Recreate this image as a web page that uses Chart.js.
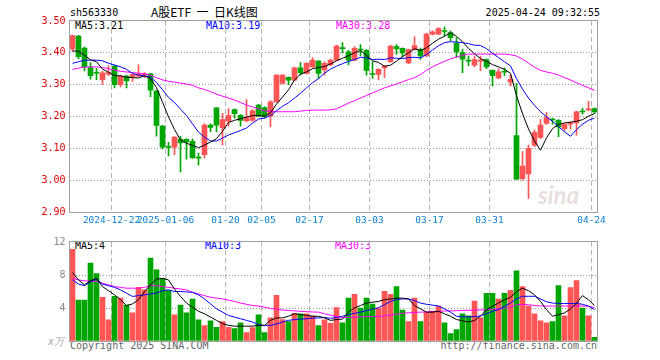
<!DOCTYPE html>
<html>
<head>
<meta charset="utf-8">
<script src="https://cdn.jsdelivr.net/npm/chart.js@4.4.1/dist/chart.umd.min.js"></script>
<style>
  body { margin: 0; background: #fff; width: 660px; height: 360px; position: relative; overflow: hidden; font-family: "DejaVu Sans Mono", monospace; }
  canvas { position: absolute; left: 0; }
  #price { top: 0; }
  #vol { top: 232px; }
  .t { position: absolute; font-size: 10px; line-height: 12px; white-space: pre; }
</style>
</head>
<body>
<div class="t" style="left:70px;top:7px">sh563330</div>
<div class="t" style="left:151px;top:4px;font-family:'Noto Sans CJK SC';font-size:12px;line-height:16px">A股ETF  一  日K线图</div>
<div class="t" style="right:60px;top:7px">2025-04-24 09:32:55</div>

<div class="t" style="left:75px;top:20px;color:#000">MA5:3.21</div>
<div class="t" style="left:206px;top:20px;color:#0000ff">MA10:3.19</div>
<div class="t" style="left:336px;top:20px;color:#ff00ff">MA30:3.28</div>

<div class="t" style="left:75px;top:240px;color:#000">MA5:4</div>
<div class="t" style="left:205px;top:240px;color:#0000ff">MA10:3</div>
<div class="t" style="left:335px;top:240px;color:#ff00ff">MA30:3</div>

<div class="t" style="left:48px;top:336px;color:#aaa;font-style:italic">x万</div>
<div class="t" style="left:70px;top:340px;color:#666">Copyright 2025 SINA.COM</div>
<div class="t" style="right:63px;top:340px;color:#666">http://finance.sina.com.cn</div>
<div class="t" style="left:538px;top:180px;font:italic bold 24px Lato;color:rgba(200,180,180,0.45)">sina</div>

<canvas id="price" width="660" height="232"></canvas>
<canvas id="vol" width="660" height="128"></canvas>

<script>
// dias de negociacion
const dates = [
  '2024-12-12','2024-12-13','2024-12-16','2024-12-17','2024-12-18','2024-12-19','2024-12-20','2024-12-23','2024-12-24','2024-12-25',
  '2024-12-26','2024-12-27','2024-12-30','2024-12-31','2025-01-02','2025-01-03','2025-01-06','2025-01-07','2025-01-08','2025-01-09',
  '2025-01-10','2025-01-13','2025-01-14','2025-01-15','2025-01-16','2025-01-17','2025-01-20','2025-01-21','2025-01-22','2025-01-23',
  '2025-01-24','2025-01-27','2025-02-05','2025-02-06','2025-02-07','2025-02-10','2025-02-11','2025-02-12','2025-02-13','2025-02-14',
  '2025-02-17','2025-02-18','2025-02-19','2025-02-20','2025-02-21','2025-02-24','2025-02-25','2025-02-26','2025-02-27','2025-02-28',
  '2025-03-03','2025-03-04','2025-03-05','2025-03-06','2025-03-07','2025-03-10','2025-03-11','2025-03-12','2025-03-13','2025-03-14',
  '2025-03-17','2025-03-18','2025-03-19','2025-03-20','2025-03-21','2025-03-24','2025-03-25','2025-03-26','2025-03-27','2025-03-28',
  '2025-03-31','2025-04-01','2025-04-02','2025-04-03','2025-04-07','2025-04-08','2025-04-09','2025-04-10','2025-04-11','2025-04-14',
  '2025-04-15','2025-04-16','2025-04-17','2025-04-18','2025-04-21','2025-04-22','2025-04-23','2025-04-24'
];

const tickDates = ['2024-12-23','2025-01-06','2025-01-20','2025-02-05','2025-02-17','2025-03-03','2025-03-17','2025-03-31','2025-04-24'];
const tickText  = ['2024-12-22','2025-01-06','01-20','02-05','02-17','03-03','03-17','03-31','04-24'];

const open = [
  3.412,3.453,3.415,3.354,3.338,3.316,3.333,3.358,3.300,3.327,
  3.325,3.327,3.331,3.334,3.280,3.170,3.106,3.104,3.128,3.128,
  3.122,3.072,3.080,3.173,3.227,3.165,3.185,3.222,3.204,3.186,
  3.188,3.236,3.228,3.201,3.246,3.304,3.323,3.314,3.353,3.335,
  3.356,3.374,3.346,3.363,3.377,3.414,3.403,3.377,3.411,3.408,
  3.334,3.332,3.353,3.372,3.420,3.414,3.368,3.410,3.410,3.390,
  3.459,3.459,3.469,3.464,3.431,3.401,3.376,3.361,3.374,3.379,
  3.345,3.321,3.341,3.308,3.140,3.005,3.020,3.110,3.134,3.178,
  3.192,3.188,3.162,3.176,3.180,3.216,3.221,3.225
];
const high = [
  3.456,3.455,3.418,3.369,3.351,3.343,3.360,3.360,3.330,3.330,
  3.334,3.362,3.338,3.336,3.282,3.172,3.119,3.137,3.138,3.130,
  3.130,3.085,3.177,3.177,3.228,3.210,3.225,3.224,3.206,3.253,
  3.222,3.238,3.230,3.250,3.332,3.332,3.325,3.355,3.369,3.369,
  3.385,3.376,3.372,3.380,3.424,3.432,3.408,3.420,3.426,3.410,
  3.372,3.350,3.360,3.424,3.426,3.416,3.412,3.450,3.415,3.462,
  3.469,3.479,3.482,3.469,3.448,3.412,3.390,3.390,3.390,3.381,
  3.347,3.350,3.353,3.330,3.304,3.090,3.110,3.157,3.190,3.212,
  3.195,3.190,3.178,3.183,3.217,3.226,3.248,3.227
];
const low = [
  3.405,3.381,3.343,3.317,3.316,3.301,3.328,3.290,3.293,3.290,
  3.310,3.325,3.322,3.262,3.138,3.098,3.076,3.080,3.026,3.066,
  3.068,3.047,3.070,3.152,3.152,3.110,3.170,3.195,3.170,3.184,
  3.185,3.200,3.195,3.167,3.245,3.302,3.300,3.313,3.330,3.333,
  3.354,3.320,3.330,3.360,3.375,3.400,3.362,3.375,3.390,3.330,
  3.320,3.315,3.322,3.370,3.395,3.387,3.366,3.408,3.380,3.388,
  3.456,3.457,3.453,3.438,3.385,3.338,3.360,3.356,3.344,3.350,
  3.296,3.318,3.328,3.296,3.002,3.000,2.942,3.105,3.130,3.175,
  3.176,3.137,3.155,3.160,3.141,3.207,3.218,3.210
];
const close = [
  3.454,3.388,3.356,3.328,3.336,3.337,3.338,3.300,3.327,3.312,
  3.332,3.334,3.334,3.283,3.172,3.104,3.103,3.135,3.117,3.120,
  3.071,3.069,3.173,3.166,3.173,3.190,3.204,3.209,3.188,3.197,
  3.218,3.201,3.200,3.246,3.330,3.330,3.314,3.353,3.338,3.367,
  3.377,3.335,3.367,3.377,3.421,3.413,3.377,3.414,3.409,3.345,
  3.332,3.348,3.358,3.421,3.412,3.400,3.410,3.423,3.390,3.459,
  3.466,3.476,3.467,3.448,3.403,3.380,3.374,3.379,3.376,3.356,
  3.328,3.340,3.339,3.317,3.003,3.044,3.100,3.150,3.173,3.197,
  3.189,3.167,3.176,3.179,3.215,3.214,3.223,3.214
];

const ma5 = [
  3.406,3.405,3.392,3.378,3.372,3.349,3.339,3.328,3.328,3.323,
  3.322,3.321,3.328,3.319,3.291,3.245,3.199,3.159,3.126,3.116,
  3.109,3.102,3.110,3.120,3.130,3.154,3.181,3.188,3.193,3.198,
  3.203,3.203,3.201,3.212,3.239,3.261,3.284,3.315,3.333,3.340,
  3.350,3.354,3.357,3.365,3.375,3.383,3.391,3.400,3.407,3.392,
  3.375,3.370,3.358,3.361,3.374,3.388,3.400,3.413,3.407,3.416,
  3.430,3.443,3.452,3.463,3.452,3.435,3.414,3.397,3.382,3.373,
  3.363,3.356,3.348,3.336,3.265,3.209,3.161,3.123,3.094,3.133,
  3.162,3.175,3.180,3.182,3.185,3.190,3.201,3.209
];
const ma10 = [
  3.367,3.372,3.377,3.377,3.377,3.375,3.367,3.362,3.356,3.348,
  3.335,3.330,3.328,3.323,3.307,3.284,3.260,3.244,3.223,3.203,
  3.177,3.151,3.135,3.123,3.123,3.132,3.142,3.149,3.156,3.164,
  3.179,3.192,3.195,3.203,3.218,3.232,3.243,3.258,3.273,3.290,
  3.306,3.319,3.336,3.349,3.358,3.366,3.373,3.379,3.386,3.384,
  3.379,3.380,3.379,3.384,3.383,3.382,3.385,3.386,3.384,3.395,
  3.409,3.422,3.432,3.435,3.434,3.432,3.429,3.424,3.423,3.413,
  3.399,3.385,3.372,3.359,3.319,3.286,3.258,3.235,3.215,3.199,
  3.185,3.168,3.152,3.138,3.159,3.176,3.188,3.195
];
const ma30 = [
  3.348,3.352,3.355,3.356,3.356,3.354,3.350,3.346,3.342,3.340,
  3.338,3.336,3.334,3.330,3.322,3.315,3.311,3.308,3.305,3.302,
  3.298,3.290,3.285,3.278,3.270,3.264,3.258,3.252,3.244,3.236,
  3.230,3.224,3.218,3.216,3.215,3.215,3.215,3.215,3.217,3.219,
  3.220,3.220,3.220,3.221,3.224,3.233,3.242,3.250,3.258,3.266,
  3.274,3.282,3.290,3.296,3.302,3.309,3.316,3.322,3.332,3.345,
  3.356,3.365,3.373,3.381,3.387,3.392,3.396,3.396,3.396,3.396,
  3.396,3.396,3.396,3.394,3.390,3.380,3.368,3.355,3.345,3.340,
  3.336,3.330,3.322,3.315,3.306,3.298,3.290,3.282
];

// volumen (x万)
const vol = [
  11.1,4.95,4.95,9.46,8.16,5.30,2.57,5.42,5.19,4.35,
  3.40,6.50,6.20,10.06,8.63,7.60,6.14,3.17,4.35,3.40,
  5.07,2.57,1.86,2.45,1.66,2.34,1.66,1.50,2.20,1.03,
  1.62,3.17,1.03,2.81,5.54,2.60,2.34,3.36,3.29,3.29,
  3.05,1.86,2.57,2.14,4.04,2.20,5.19,5.66,4.00,5.19,
  4.47,4.00,6.02,5.66,6.61,3.76,2.34,5.19,2.34,3.52,
  3.64,4.24,2.20,0.91,1.39,3.29,3.05,4.83,2.81,5.78,
  5.78,5.07,5.78,6.14,8.51,6.61,4.24,3.29,2.45,2.20,
  2.34,6.73,3.05,6.49,7.32,4.00,3.05,0.44
];
const volMa5 = [
  8.3,7.4,6.8,7.3,7.6,6.6,6.1,5.6,5.0,4.3,
  4.5,5.0,6.0,6.8,7.5,7.6,7.4,6.3,5.4,4.6,
  4.1,3.6,3.3,2.9,2.5,2.1,1.9,1.8,1.8,1.8,
  1.8,1.9,1.9,2.5,2.8,2.8,3.0,3.3,3.2,3.1,
  3.0,3.0,2.8,2.5,2.6,2.65,3.5,4.0,4.3,4.6,
  4.7,4.8,5.0,5.1,5.2,5.2,5.1,4.3,3.9,3.5,
  3.5,3.6,3.3,3.0,2.6,2.45,2.3,2.5,3.0,3.8,
  4.2,4.6,5.0,5.3,6.0,6.4,6.1,5.6,4.8,3.8,
  3.0,3.2,3.4,3.9,4.6,5.5,5.0,4.3
];
const volMa10 = [
  7.4,6.9,6.7,7.2,7.5,6.9,6.7,6.5,6.2,5.8,
  5.4,5.5,5.6,5.7,5.8,6.1,6.2,6.0,6.0,5.95,
  5.9,5.6,5.1,4.5,3.9,3.5,3.1,2.9,2.7,2.5,
  2.3,2.0,1.86,1.9,2.06,2.3,2.5,2.6,2.65,2.7,
  2.77,2.8,2.85,2.75,2.85,3.0,3.2,3.35,3.5,3.7,
  3.85,4.04,4.4,4.8,5.03,5.1,5.1,4.9,4.6,4.45,
  4.35,4.24,3.9,3.5,3.0,2.93,2.93,2.95,3.05,3.3,
  3.6,3.8,4.2,4.6,5.1,5.42,5.42,5.42,5.1,4.75,
  4.6,4.55,4.55,4.55,4.55,4.45,4.24,3.8
];
const volMa30 = [
  7.6,7.4,7.3,7.25,7.2,7.0,6.8,6.6,6.5,6.4,
  6.4,6.4,6.5,6.7,6.7,6.6,6.5,6.4,6.3,6.2,
  5.9,5.7,5.5,5.3,5.2,5.1,4.95,4.8,4.6,4.45,
  4.3,4.24,4.1,3.95,3.84,3.75,3.7,3.65,3.6,3.55,
  3.52,3.5,3.3,3.13,2.95,2.85,2.85,2.9,2.92,2.95,
  2.97,2.97,3.05,3.15,3.25,3.35,3.42,3.46,3.5,3.52,
  3.55,3.6,3.64,3.65,3.67,3.7,3.72,3.74,3.76,3.78,
  3.85,3.93,4.0,4.1,4.4,4.43,4.4,4.3,4.25,4.24,
  4.24,4.24,4.24,4.24,4.24,4.24,4.2,4.04
];

const ROJO = '#ff5555';
const VERDE = '#00a600';
const colores = close.map((c, i) => c >= open[i] ? ROJO : VERDE);

Chart.defaults.font.family = '"DejaVu Sans Mono", monospace';
Chart.defaults.font.size = 10;

// linea vertical solo en las fechas marcadas
function gridX(ctx) {
  return (ctx.index !== undefined && tickDates.includes(dates[ctx.index])) ? '#b4b4b4' : 'transparent';
}

// marco gris alrededor del area
const marco = {
  id: 'marco',
  afterDraw(c) {
    const a = c.chartArea;
    const ctx = c.ctx;
    ctx.save();
    ctx.strokeStyle = '#a0a0a0';
    ctx.lineWidth = 1;
    ctx.strokeRect(Math.floor(a.left) + 0.5, Math.floor(a.top) - 0.5, Math.round(a.right - a.left), Math.round(a.bottom - a.top) + 1);
    ctx.restore();
  }
};

function ejeX(conEtiquetas, alto) {
  return {
    type: 'category',
    offset: true,
    grid: { offset: true, color: gridX, drawTicks: false, lineWidth: 1 },
    border: { display: false, dash: [5, 3] },
    ticks: {
      display: conEtiquetas,
      autoSkip: false,
      maxRotation: 0,
      minRotation: 0,
      padding: 3,
      labelOffset: -3,
      color: '#0a7fd0',
      font: { size: 9.5 },
      callback: (v, i) => {
        const k = tickDates.indexOf(dates[i]);
        return k >= 0 ? tickText[k] : '';
      }
    },
    afterFit: s => { s.height = alto; }
  };
}

function linea(data, color) {
  return { type: 'line', data, borderColor: color, borderWidth: 1, pointRadius: 0, tension: 0, order: 0 };
}

new Chart(document.getElementById('price'), {
  type: 'bar',
  data: {
    labels: dates,
    datasets: [
      linea(ma5, '#000000'),
      linea(ma10, '#0000ff'),
      linea(ma30, '#ff00ff'),
      { data: open.map((o, i) => [o, close[i]]), backgroundColor: colores, barThickness: 5, minBarLength: 1, grouped: false, order: 1 },
      { data: low.map((l, i) => [l, high[i]]), backgroundColor: colores, barThickness: 1, grouped: false, order: 2 }
    ]
  },
  options: {
    responsive: false,
    animation: false,
    devicePixelRatio: 1,
    layout: { padding: { top: 21, right: 62.5, left: 0, bottom: 0 } },
    plugins: { legend: { display: false }, tooltip: { enabled: false } },
    scales: {
      x: ejeX(true, 20),
      y: {
        min: 2.9,
        max: 3.5,
        ticks: { stepSize: 0.1, color: '#e00000', padding: 4, callback: v => v.toFixed(2) },
        grid: {
          drawTicks: false,
          color: ctx => (ctx.tick && ctx.tick.value > 2.95 && ctx.tick.value < 3.45) ? '#999' : 'transparent'
        },
        border: { display: false, dash: [1, 2] },
        afterFit: s => { s.width = 69.5; }
      }
    }
  },
  plugins: [marco]
});

new Chart(document.getElementById('vol'), {
  type: 'bar',
  data: {
    labels: dates,
    datasets: [
      linea(volMa5, '#000000'),
      linea(volMa10, '#0000ff'),
      linea(volMa30, '#ff00ff'),
      { data: vol, backgroundColor: colores, barThickness: 5, grouped: false, order: 1 }
    ]
  },
  options: {
    responsive: false,
    animation: false,
    devicePixelRatio: 1,
    layout: { padding: { top: 8, right: 62.5, left: 0, bottom: 0 } },
    plugins: { legend: { display: false }, tooltip: { enabled: false } },
    scales: {
      x: ejeX(false, 19),
      y: {
        min: 0,
        max: 12,
        ticks: { stepSize: 4, color: '#888', padding: 4, callback: v => v === 0 ? '' : v },
        grid: {
          drawTicks: false,
          color: ctx => (ctx.tick && ctx.tick.value > 0 && ctx.tick.value < 12) ? '#999' : 'transparent'
        },
        border: { display: false, dash: [1, 2] },
        afterFit: s => { s.width = 69.5; }
      }
    }
  },
  plugins: [marco]
});
</script>
</body>
</html>
